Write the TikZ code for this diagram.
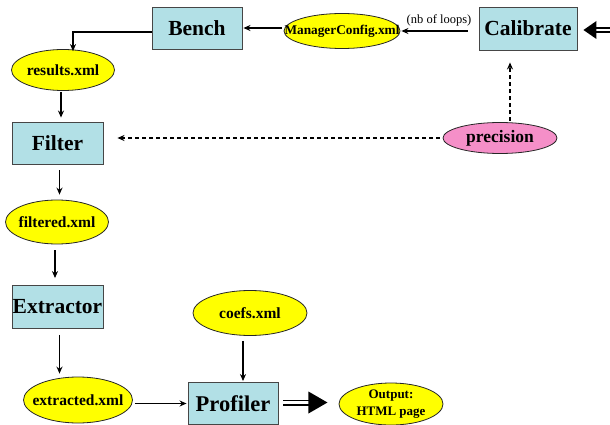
\documentclass[tikz,border=0pt]{standalone}
\usepackage{fontspec}
\setmainfont{Liberation Serif}
\usetikzlibrary{arrows.meta,calc,shapes.geometric}
\definecolor{boxfill}{RGB}{178,224,230}
\definecolor{ellyellow}{RGB}{255,255,0}
\definecolor{ellpink}{RGB}{245,143,200}
\definecolor{edgegray}{RGB}{70,70,70}
\tikzset{
  box/.style={draw=edgegray, line width=0.9pt, fill=boxfill, inner sep=0pt,
    font=\bfseries\fontsize{21.5}{24}\selectfont},
  ell/.style={ellipse, draw=black!85, line width=0.8pt, fill=ellyellow, inner sep=0pt,
    font=\bfseries\fontsize{15.5}{17}\selectfont},
  arr/.style={draw=black, line width=1.3pt, -{Stealth[length=7pt,width=6pt]}},
  darr/.style={arr, dash pattern=on 4pt off 3pt},
  dbl/.style={draw=black, double=white, line width=1.8pt, double distance=2.4pt},
}
\begin{document}
\begin{tikzpicture}[x=1pt,y=-1pt]
\useasboundingbox (0,0) rectangle (610,425);
% boxes
\node[box, minimum width=90pt, minimum height=42pt] (bench) at (197,28) {Bench};
\node[box, minimum width=98pt, minimum height=43pt] (calib) at (528,28.5) {Calibrate};
\node[box, minimum width=91pt, minimum height=42pt] (filter) at (57.5,143) {Filter};
\node[box, minimum width=91pt, minimum height=43pt] (extractor) at (57.5,307) {Extractor};
\node[box, minimum width=90pt, minimum height=42pt, font=\bfseries\fontsize{22.5}{24}\selectfont] (profiler) at (233,403.5) {Profiler};
% ellipses
\node[ell, minimum width=116pt, minimum height=35pt, font=\bfseries\fontsize{13.3}{14}\selectfont] (manager) at (342,31) {\makebox[0pt]{ManagerConfig.xml}};
\node[ell, minimum width=103pt, minimum height=41pt] (results) at (63,70) {\makebox[0pt]{results.xml}};
\node[ell, fill=ellpink, minimum width=114pt, minimum height=31pt, font=\bfseries\fontsize{17.5}{19}\selectfont] (precision) at (500,138) {\makebox[0pt]{precision}};
\node[ell, minimum width=103pt, minimum height=44pt] (filtered) at (57,222) {\makebox[0pt]{filtered.xml}};
\node[ell, minimum width=109pt, minimum height=46pt] (extracted) at (78,400) {\makebox[0pt]{extracted.xml}};
\node[ell, minimum width=114pt, minimum height=45pt] (coefs) at (250,313) {\makebox[0pt]{coefs.xml}};
\node[ell, minimum width=104pt, minimum height=42pt, align=center, font=\bfseries\fontsize{13}{17}\selectfont] (output) at (391,404) {Output:\\HTML page};
% label
\node[font=\fontsize{12.5}{14}\selectfont, inner sep=0pt] (loops) at (439,20) {(nb of loops)};
% connectors
\draw[arr, shorten <=11pt, shorten >=1pt] (calib.west |- manager.east) -- (manager.east);
\draw[arr, shorten <=2pt, shorten >=1pt] (manager.west |- bench.east) -- (bench.east);
\draw[arr] ([yshift=-4pt]bench.west) -| ([xshift=10pt,yshift=-2pt]results.north);
\draw[arr, shorten <=1pt, shorten >=4pt] ([xshift=-2pt]results.south) -- ([xshift=-2pt]results.south |- filter.north);
\draw[arr, shorten <=6pt, shorten >=5pt] ([xshift=2pt]filter.south) -- ([xshift=2pt]filter.south |- filtered.north);
\draw[arr, shorten <=6pt, shorten >=7pt] ([xshift=-2pt]filtered.south) -- ([xshift=-2pt]filtered.south |- extractor.north);
\draw[arr, shorten <=6pt, shorten >=3pt] ([xshift=2pt]extractor.south) -- ([xshift=2pt]extractor.south |- extracted.north);
\draw[arr, shorten <=2pt, shorten >=1pt] (extracted.east |- profiler.west) -- (profiler.west);
\draw[arr, shorten <=5pt, shorten >=1pt] ([xshift=-7pt]coefs.south) -- ([xshift=-7pt]coefs.south |- profiler.north);
\draw[darr, shorten <=3pt, shorten >=14pt] (precision.west) -- (precision.west -| filter.east);
\draw[darr, shorten <=1pt, shorten >=12pt] ([xshift=10pt]precision.north) -- ([xshift=10pt]precision.north |- calib.south);
% double arrows
\coordinate (inR) at (610,30);
\coordinate (calibTip) at ($(calib.east |- inR)+(6,0)$);
\draw[dbl] (inR) -- ($(calibTip)+(12,0)$);
\fill[black] (calibTip) -- ++(13,-9) -- ++(0,18) -- cycle;
\coordinate (profTip) at ($(profiler.east)+(49,-1)$);
\draw[dbl] ($(profiler.east)+(5,-1)$) -- ($(profTip)+(-18,0)$);
\fill[black] (profTip) -- ++(-19,-11) -- ++(0,22) -- cycle;
\end{tikzpicture}
\end{document}
